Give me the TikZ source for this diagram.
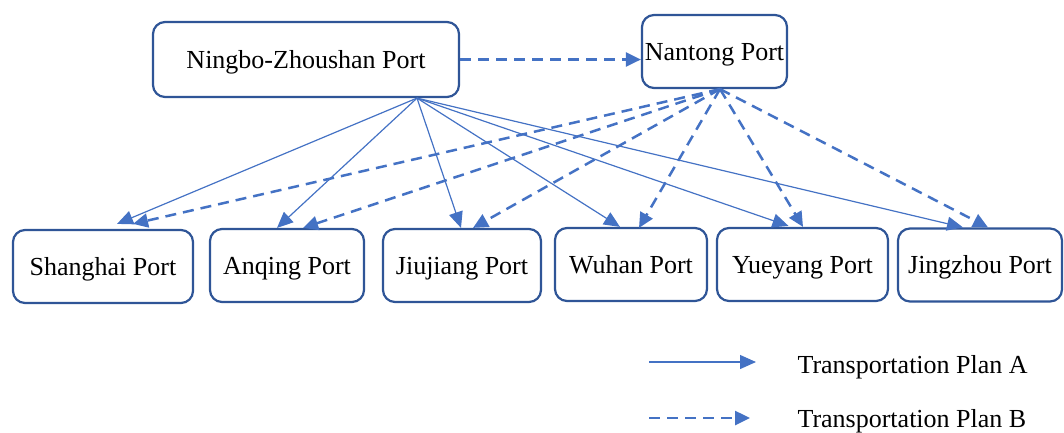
\documentclass[tikz,border=0pt]{standalone}
\usepackage{fontspec}
\setmainfont{Liberation Serif}
\usetikzlibrary{arrows.meta,calc}
\definecolor{boxblue}{HTML}{2F5597}
\definecolor{lineblue}{HTML}{4472C4}
\begin{document}
\begin{tikzpicture}[x=1pt,y=-1pt,
  port/.style={draw=boxblue, line width=2.2pt, rounded corners=12pt, fill=white,
    minimum height=73pt, inner sep=0pt, text height=20pt, text depth=3pt,
    font=\fontsize{26}{30}\selectfont},
  planA/.style={draw=lineblue, line width=1.2pt, -{Triangle[length=16pt,width=14pt]}},
  planB/.style={draw=lineblue, line width=2.5pt, dash pattern=on 11pt off 7pt,
    -{Triangle[length=15pt,width=14pt]}},
  legtext/.style={anchor=base west, font=\fontsize{26}{30}\selectfont}]
\useasboundingbox (0,0) rectangle (1064,432);
% top nodes
\node[port, minimum width=306pt, minimum height=75pt] (ningbo) at (306,59.5) {Ningbo-Zhoushan Port};
\node[port, minimum width=145pt] (nantong) at (714.5,51.5) {Nantong Port};
% bottom nodes
\node[port, minimum width=180pt] (shanghai) at (103,266.5) {Shanghai Port};
\node[port, minimum width=154pt] (anqing) at (287,265.5) {Anqing Port};
\node[port, minimum width=158pt] (jiujiang) at (462,265.5) {Jiujiang Port};
\node[port, minimum width=152pt] (wuhan) at (631,264.5) {Wuhan Port};
\node[port, minimum width=171pt] (yueyang) at (802.5,264.5) {Yueyang Port};
\node[port, minimum width=164pt] (jingzhou) at (980,265) {Jingzhou Port};
% sources
\coordinate (srcA) at ($(ningbo.south)+(111,0)$);
\coordinate (srcB) at ($(nantong.south)+(5.5,0)$);
% targets
\coordinate (shA) at ($(shanghai.north)+(14,-5)$);
\coordinate (shB) at ($(shanghai.north)+(30,-5)$);
\coordinate (aqA) at ($(anqing.north)+(-10,0)$);
\coordinate (aqB) at ($(anqing.north)+(16,0)$);
\coordinate (jjA) at ($(jiujiang.north)+(-1,0)$);
\coordinate (jjB) at ($(jiujiang.north)+(11,0)$);
\coordinate (whA) at ($(wuhan.north)+(-11,0)$);
\coordinate (whB) at ($(wuhan.north)+(8,1)$);
\coordinate (yyA) at ($(yueyang.north)+(-14,-1)$);
\coordinate (yyB) at ($(yueyang.north)+(0.5,0)$);
\coordinate (jzA) at ($(jingzhou.north)+(-17,0)$);
\coordinate (jzB) at ($(jingzhou.north)+(8,0)$);
% Ningbo -> Nantong
\draw[planB] (ningbo.east) -- (ningbo.east -| nantong.west);
% Plan A
\foreach \t in {shA,aqA,jjA,whA,yyA,jzA} \draw[planA] (srcA) -- (\t);
% Plan B
\foreach \t in {shB,aqB,jjB,whB,yyB,jzB} \draw[planB] (srcB) -- (\t);
% legend
\coordinate (la1) at (649,362);
\coordinate (la2) at (756,362);
\coordinate (lb1) at (649,418);
\coordinate (lb2) at (750,418);
\draw[planA] (la1) -- (la2);
\draw[planB] (lb1) -- (lb2);
\node[legtext] (legA) at (794,373) {Transportation Plan A};
\node[legtext] (legB) at (794,427) {Transportation Plan B};
\end{tikzpicture}
\end{document}
